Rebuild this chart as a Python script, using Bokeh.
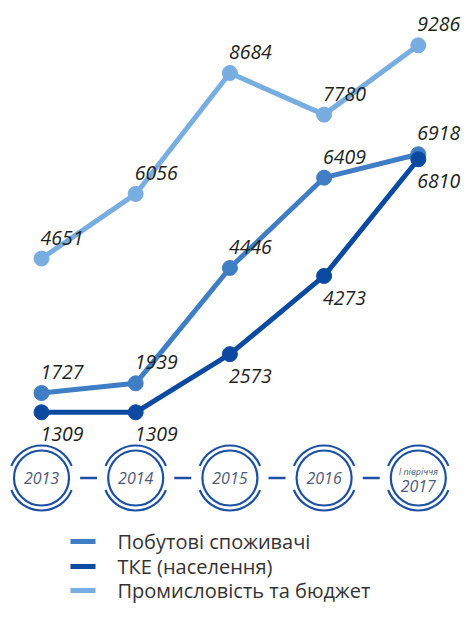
from bokeh.plotting import figure
from bokeh.models import Range1d, ColumnDataSource
from bokeh.core.properties import value
from bokeh.embed import file_html
from bokeh.resources import INLINE

# ---- data ----
years = ["2013", "2014", "2015", "2016", "2017"]
period_note = ["", "", "", "", "І півріччя"]
household = [1727, 1939, 4446, 6409, 6918]          # Побутові споживачі
tke = [1309, 1309, 2573, 4273, 6810]                # ТКЕ (населення)
industry = [4651, 6056, 8684, 7780, 9286]           # Промисловість та бюджет
series_names = ["Побутові споживачі", "ТКЕ (населення)", "Промисловість та бюджет"]

xi = list(range(len(years)))

W, H = 461, 603
X0, XS = 41.0, 94.2      # pixel position of first category, pixels per category
Y0, YS = 472.0, 0.046    # pixel position of value 0, pixels per unit


def px_x(fx):
    return (fx - X0) / XS


def px_y(fy):
    return (Y0 - fy) / YS


C_LIGHT = "#77ade0"
C_MED = "#3f7ec4"
C_DARK = "#0c4aa1"
C_RING = "#1d50a2"
C_YEAR = "#4e5a7a"
C_LABEL = "#231f20"
FONT = value("Open Sans")

p = figure(width=W, height=H, output_backend="svg", toolbar_location=None,
           x_range=Range1d(px_x(0), px_x(W)),
           y_range=Range1d(px_y(H), px_y(0)),
           min_border=0)
p.axis.visible = False
p.xgrid.visible = False
p.ygrid.visible = False
p.outline_line_color = None
p.background_fill_color = "white"
p.border_fill_color = "white"

for vals, col, lab_above in [(industry, C_LIGHT, True), (household, C_MED, True), (tke, C_DARK, False)]:
    src = ColumnDataSource(dict(x=xi, y=vals, t=[str(v) for v in vals]))
    p.line("x", "y", source=src, line_color=col, line_width=5)
    p.scatter("x", "y", source=src, size=15, fill_color=col, line_color=col)
    p.text("x", "y", text="t", source=src, text_font=FONT,
           text_font_style="italic", text_font_size="19.5px", text_color=C_LABEL,
           text_align="left", text_baseline="middle",
           x_offset=-1, y_offset=(-21 if lab_above else 22))

# ---- timeline of year circles ----
ring_y = px_y(477.5)
ring_src = ColumnDataSource(dict(x=xi, y=[ring_y] * len(xi)))
p.scatter("x", "y", source=ring_src, size=55, fill_color="white", line_color=C_RING, line_width=2.2)
p.arc("x", "y", source=ring_src, radius=32.5, radius_units="screen",
      start_angle=0.38, end_angle=2.76, line_color=C_RING, line_width=2.2)
p.arc("x", "y", source=ring_src, radius=32.5, radius_units="screen",
      start_angle=3.52, end_angle=5.90, line_color=C_RING, line_width=2.2)
gap = 8.5 / XS
p.segment(x0=[i + 0.5 - gap for i in xi[:-1]], y0=[ring_y] * (len(xi) - 1),
          x1=[i + 0.5 + gap for i in xi[:-1]], y1=[ring_y] * (len(xi) - 1),
          line_color=C_RING, line_width=2.5)
full_src = ColumnDataSource(dict(x=xi[:-1], y=[ring_y] * (len(xi) - 1), yr=years[:-1]))
p.text("x", "y", text="yr", source=full_src, text_font=FONT,
       text_font_style="italic", text_font_size="16px", text_color=C_YEAR,
       text_align="center", text_baseline="middle")
last_src = ColumnDataSource(dict(x=xi[-1:], y=[ring_y], yr=years[-1:], note=period_note[-1:]))
p.text("x", "y", text="yr", source=last_src, text_font=FONT,
       text_font_style="italic", text_font_size="16px", text_color=C_YEAR,
       text_align="center", text_baseline="middle", y_offset=8)
p.text("x", "y", text="note", source=last_src, text_font=FONT,
       text_font_style="italic", text_font_size="9px", text_color=C_YEAR,
       text_align="center", text_baseline="middle", y_offset=-7)

# ---- legend (drawn manually for exact placement) ----
leg_rows = [px_y(541), px_y(566), px_y(590)]
leg_cols = [C_MED, C_DARK, C_LIGHT]
p.segment(x0=[px_x(70)] * 3, y0=leg_rows, x1=[px_x(95)] * 3, y1=leg_rows,
          line_color=leg_cols, line_width=5)
p.text(x=[px_x(117)] * 3, y=leg_rows, text=series_names, text_font=FONT,
       text_font_size="20px", text_color="#333333",
       text_align="left", text_baseline="middle")

open("out.html", "w").write(file_html(p, INLINE))
